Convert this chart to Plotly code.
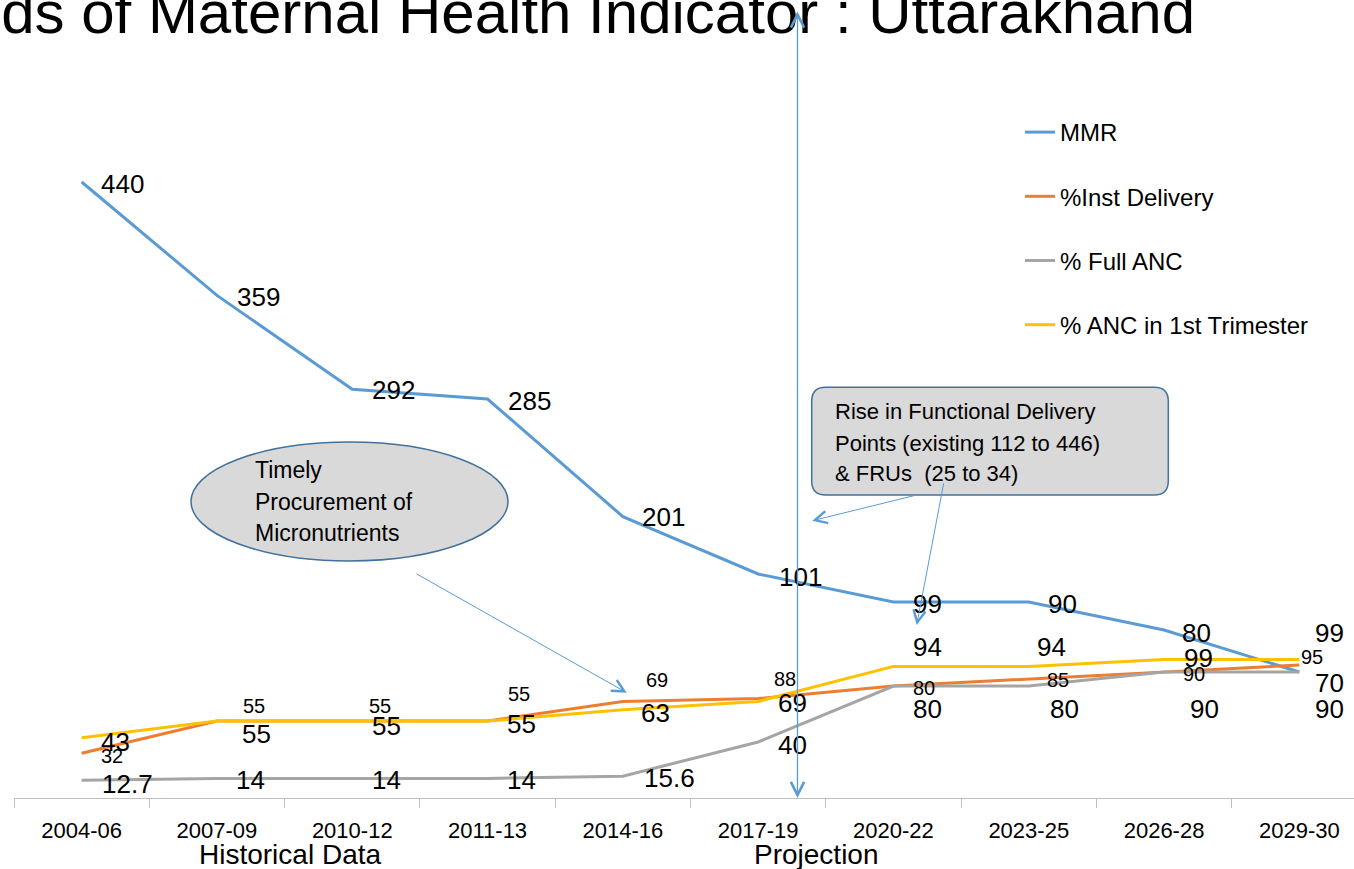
import plotly.graph_objects as go

# ---------------- data ----------------
categories = ["2004-06", "2007-09", "2010-12", "2011-13", "2014-16",
              "2017-19", "2020-22", "2023-25", "2026-28", "2029-30"]

mmr = [440, 359, 292, 285, 201, 160, 140, 140, 120, 90]
mmr_labels = ["440", "359", "292", "285", "201", "101", "99", "90", "80", "70"]

inst_delivery = [32, 55, 55, 55, 69, 71, 80, 85, 90, 95]
inst_labels = ["32", "55", "55", "55", "69", "88", "80", "85", "90", "95"]

full_anc = [12.7, 14, 14, 14, 15.6, 40, 80, 80, 90, 90]
full_anc_labels = ["12.7", "14", "14", "14", "15.6", "40", "80", "80", "90", "90"]

anc_first = [43, 55, 55, 55, 63, 69, 94, 94, 99, 99]
anc_first_labels = ["43", "55", "55", "55", "63", "69", "94", "94", "99", "99"]

series_names = ["MMR", "%Inst Delivery", "% Full ANC", "% ANC in 1st Trimester"]
series_colors = ["#5b9bd5", "#ed7d31", "#a5a5a5", "#ffc000"]

# ---------------- label offsets (pixels: right, down) ----------------
mmr_off = [(41, 1.5), (42, 2), (41, 1), (42, 2), (41, 0.5), (42, 2.5), (34, 1.5), (34, 1.5), (32, 2.5), (30, 10.5)]
inst_off = [(30, 2.3), (37, -15.5), (28, -15.5), (31, -27.5), (34, -21), (27, -20), (31, 1.5), (29, 0.5), (30, 1.5), (13, -8.5)]
full_off = [(45.5, 3.3), (34, 2), (34, 2), (34, 2), (47, 2.3), (34, 2.5), (34, 22.5), (36, 22.5), (40, 36.5), (30, 36.5)]
anc_off = [(33.5, 4.4), (40, 12.5), (34, 4.5), (34, 2.5), (33, 2.7), (34, 2), (34, -19), (23, -19), (34, -1), (30, -26)]

FONT = "Liberation Sans, Arial, sans-serif"
W, H = 1354, 869
ML, MR, MT, MB = 14, 0, 98, 71
PW = W - ML - MR
PH = H - MT - MB
BASE = H - MB
CAT_W = 135.3
x_end = -0.5 + PW / CAT_W


def px2x(px):
    return (px - ML) / PW


def py2y(py):
    return (BASE - py) / PH


fig = go.Figure()
all_vals = [mmr, inst_delivery, full_anc, anc_first]
for name, color, vals in zip(series_names, series_colors, all_vals):
    fig.add_trace(go.Scatter(
        x=categories, y=vals, mode="lines", name=name, legendgroup=name,
        line=dict(color=color, width=3), hoverinfo="skip"))

annotations = []
label_sets = [
    (mmr, mmr_labels, mmr_off, 26),
    (inst_delivery, inst_labels, inst_off, 20),
    (full_anc, full_anc_labels, full_off, 26),
    (anc_first, anc_first_labels, anc_off, 26),
]
for vals, labels, offs, size in label_sets:
    for i, (v, t) in enumerate(zip(vals, labels)):
        dx, dy = offs[i]
        annotations.append(dict(
            x=categories[i], y=v, xref="x", yref="y", text=t, showarrow=False,
            xanchor="center", yanchor="middle", xshift=dx, yshift=-dy,
            font=dict(size=size, color="black", family=FONT)))

# title (partly cut by the top edge)
annotations.append(dict(
    x=px2x(1197), y=py2y(48), xref="paper", yref="paper",
    text="Trends of Maternal Health Indicator : Uttarakhand", showarrow=False,
    xanchor="right", yanchor="bottom", font=dict(size=60, color="black", family=FONT)))

# section labels below the axis
annotations.append(dict(x=px2x(290), y=py2y(854), xref="paper", yref="paper",
                        text="Historical Data", showarrow=False, xanchor="center", yanchor="middle",
                        font=dict(size=28, color="black", family=FONT)))
annotations.append(dict(x=px2x(816), y=py2y(854), xref="paper", yref="paper",
                        text="Projection", showarrow=False, xanchor="center", yanchor="middle",
                        font=dict(size=28, color="black", family=FONT)))

ARROW = "#5b9bd5"
# vertical double arrow dividing history and projection
annotations.append(dict(x=px2x(797.5), y=py2y(BASE), xref="paper", yref="paper",
                        text="", showarrow=True, ax=0, ay=-(BASE - 10),
                        arrowside="end+start", arrowhead=5, startarrowhead=5,
                        arrowsize=2.0, startarrowsize=2.0, arrowwidth=1.3, arrowcolor=ARROW))
# arrows from the callout box
annotations.append(dict(x=px2x(812.3), y=py2y(520.7), xref="paper", yref="paper",
                        text="", showarrow=True, ax=104.4, ay=-25.7,
                        arrowhead=5, arrowsize=2.4, arrowwidth=1, arrowcolor=ARROW))
annotations.append(dict(x=px2x(916.7), y=py2y(625), xref="paper", yref="paper",
                        text="", showarrow=True, ax=27.3, ay=-143.3,
                        arrowhead=5, arrowsize=2.4, arrowwidth=1, arrowcolor=ARROW))
# arrow from the ellipse
annotations.append(dict(x=px2x(626.7), y=py2y(692.7), xref="paper", yref="paper",
                        text="", showarrow=True, ax=-211.7, ay=-119.7,
                        arrowhead=5, arrowsize=2.4, arrowwidth=1, arrowcolor=ARROW))

# callout texts
box_lines = ["Rise in Functional Delivery", "Points (existing 112 to 446)", "&amp; FRUs  (25 to 34)"]
for t, yy in zip(box_lines, [411.7, 443.3, 473.3]):
    annotations.append(dict(x=px2x(833), y=py2y(yy), xref="paper", yref="paper", text=t,
                            showarrow=False, xanchor="left", yanchor="middle",
                            font=dict(size=22, color="black", family=FONT)))
ell_lines = ["Timely", "Procurement of", "Micronutrients"]
for t, yy in zip(ell_lines, [470, 501.7, 533]):
    annotations.append(dict(x=px2x(253), y=py2y(yy), xref="paper", yref="paper", text=t,
                            showarrow=False, xanchor="left", yanchor="middle",
                            font=dict(size=23, color="black", family=FONT)))

# shapes: ellipse and rounded box
shapes = [dict(type="circle", xref="paper", yref="paper",
               x0=px2x(191), x1=px2x(508), y0=py2y(561), y1=py2y(442),
               fillcolor="#d9d9d9", line=dict(color="#41719c", width=1.5), layer="above")]

bx0, bx1, by0, by1, r = 811.7, 1168.3, 387.3, 495, 14


def P(px, py):
    return f"{px2x(px):.5f},{py2y(py):.5f}"


path = (f"M{P(bx0 + r, by0)} L{P(bx1 - r, by0)} Q{P(bx1, by0)} {P(bx1, by0 + r)} "
        f"L{P(bx1, by1 - r)} Q{P(bx1, by1)} {P(bx1 - r, by1)} "
        f"L{P(bx0 + r, by1)} Q{P(bx0, by1)} {P(bx0, by1 - r)} "
        f"L{P(bx0, by0 + r)} Q{P(bx0, by0)} {P(bx0 + r, by0)} Z")
shapes.append(dict(type="path", xref="paper", yref="paper", path=path,
                   fillcolor="#d9d9d9", line=dict(color="#41719c", width=1.5), layer="above"))

fig.update_layout(
    width=W, height=H,
    margin=dict(l=ML, r=MR, t=MT, b=MB, pad=0),
    paper_bgcolor="white", plot_bgcolor="white",
    font=dict(family=FONT, color="black"),
    showlegend=True,
    legend=dict(x=px2x(1020), y=py2y(110), xanchor="left", yanchor="top",
                xref="paper", yref="paper",
                font=dict(size=24, color="black", family=FONT),
                bgcolor="rgba(0,0,0,0)", tracegroupgap=30, itemwidth=30),
    annotations=annotations,
    shapes=shapes,
    xaxis=dict(type="category", categoryorder="array", categoryarray=categories,
               range=[-0.5, x_end], tickson="boundaries", ticks="outside", ticklen=9,
               tickcolor="#bfbfbf", showline=True, linecolor="#bfbfbf", linewidth=1.3,
               showgrid=False, zeroline=False, tickfont=dict(size=22, color="black", family=FONT),
               ticklabelstandoff=12, fixedrange=True),
    yaxis=dict(range=[0, 500], visible=False, showgrid=False, zeroline=False, fixedrange=True),
)

fig.write_html("out.html", config={"displayModeBar": False},
               post_script="document.body.style.margin='0px';")
